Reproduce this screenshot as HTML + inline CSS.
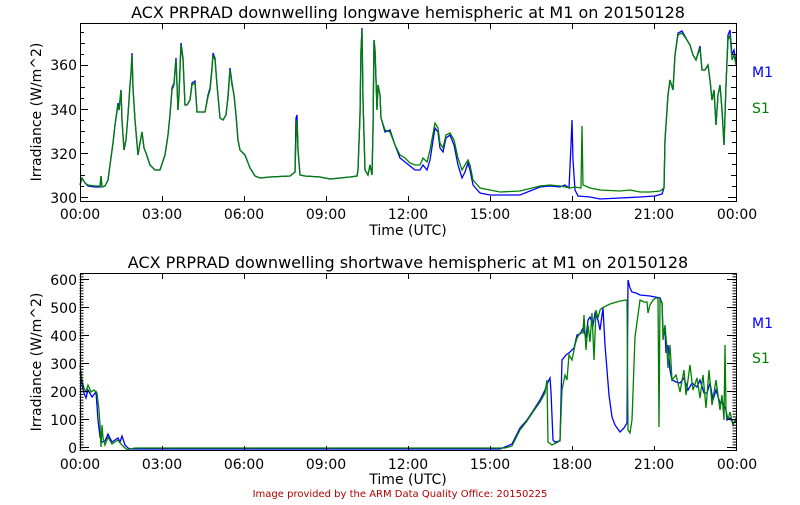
<!DOCTYPE html>
<html><head><style>
body{margin:0;background:#fff;}
svg text{font-family:"DejaVu Sans","Liberation Sans",sans-serif;}
</style></head><body>
<svg width="800" height="500" viewBox="0 0 800 500" xmlns="http://www.w3.org/2000/svg">
<g font-size="16" fill="#000" text-anchor="middle">
<text x="408" y="18">ACX PRPRAD downwelling longwave hemispheric at M1 on 20150128</text>
<text x="408" y="268">ACX PRPRAD downwelling shortwave hemispheric at M1 on 20150128</text>
</g>
<!-- plot 1 -->
<g fill="none" stroke-width="1.3">
<polyline stroke="#0000ff" points="80,185 82,178 85,183 88,186 95,187 100,187 101,176 102,187 105,186 108,180 110,165 113,143 115,125 118,103 119,110 121,90 122,120 124,150 126,140 128,115 130,85 131,73 132,53 133,88 135,120 138,155 140,143 142,132 144,148 146,153 150,165 155,170 160,170 165,155 168,135 170,115 172,88 174,83 175,70 176,58 178,110 179,93 181,43 183,58 185,105 187,105 190,100 192,83 195,81 197,112 200,112 205,112 208,95 210,88 212,68 213,53 215,58 217,85 220,118 223,120 226,115 228,96 230,68 232,83 234,95 236,115 238,140 240,150 245,155 250,168 255,176 260,178 270,177 290,176 295,172 296,118 297,115 298,150 300,175 305,176 320,177 330,179 340,178 350,177 357,176 358,170 360,115 361,50 362,28 363,100 365,170 368,175 370,165 372,175 373,130 374,40 375,50 377,110 378,85 380,95 381,118 385,132 390,130 395,145 400,158 405,162 410,166 415,170 420,170 423,165 427,170 430,160 435,128 438,132 440,148 443,152 446,138 450,135 454,145 458,165 462,178 465,172 468,163 470,170 473,185 480,193 490,195 500,195 520,195 540,187 550,186 560,187 565,185 569,188 571,145 572,120 573,160 575,190 578,196 590,197 600,199 620,198 640,197 655,196 662,194 664,188 665,140 668,95 670,80 673,90 675,55 678,33 682,31 687,40 690,45 693,55 696,60 700,46 702,70 705,70 708,65 710,80 712,100 714,90 716,125 718,95 720,85 722,110 724,145 726,85 728,35 730,30 732,55 734,50 736,62"/>
<polyline stroke="#008000" points="80,185 82,178 85,183 88,185 95,186 100,186 101,176 102,187 105,186 108,180 110,165 113,143 115,125 118,105 119,110 121,90 122,120 124,150 126,140 128,115 130,85 131,75 132,55 133,88 135,120 138,155 140,143 142,132 144,148 146,153 150,165 155,170 160,170 165,155 168,135 170,115 172,90 174,85 175,72 176,60 178,110 179,95 181,45 183,60 185,105 187,105 190,100 192,85 195,83 197,112 200,112 205,112 208,97 210,90 212,70 213,55 215,60 217,85 220,118 223,120 226,115 228,98 230,70 232,85 234,95 236,115 238,140 240,150 245,155 250,168 255,176 260,178 270,177 290,176 295,172 296,140 297,120 298,150 300,175 305,176 320,177 330,179 340,178 350,177 357,176 358,170 360,115 361,50 362,30 363,100 365,170 368,175 370,165 372,175 373,130 374,40 375,50 377,110 378,85 380,95 381,118 385,130 390,132 395,145 400,155 405,158 410,163 415,165 420,165 423,158 427,162 430,150 435,123 438,128 440,143 443,148 446,135 450,133 454,140 458,158 462,170 465,165 468,160 470,165 473,180 480,188 490,190 500,192 520,191 540,186 550,185 560,186 565,187 570,188 575,187 581,188 582,126 583,185 590,188 600,190 620,191 630,190 640,192 650,192 660,191 664,188 665,140 668,95 670,80 673,90 675,55 678,35 682,33 687,40 690,45 693,55 696,60 700,48 702,70 705,70 708,65 710,80 712,100 714,90 716,125 718,95 720,85 722,110 724,145 726,85 728,40 730,35 732,60 734,55 736,65"/>
</g>
<g stroke="#000" fill="none" stroke-width="1">
<rect x="80.5" y="23.5" width="656" height="178"/>
<path d="M162.5,201 v-5 M244.5,201 v-5 M326.5,201 v-5 M408.5,201 v-5 M490.5,201 v-5 M572.5,201 v-5 M654.5,201 v-5 M162.5,24 v5 M244.5,24 v5 M326.5,24 v5 M408.5,24 v5 M490.5,24 v5 M572.5,24 v5 M654.5,24 v5"/>
<path d="M80,197.5h8 M80,175.5h5 M80,153.5h8 M80,131.5h5 M80,109.5h8 M80,87.5h5 M80,65.5h8 M80,43.5h5 M736,197.5h-8 M736,175.5h-5 M736,153.5h-8 M736,131.5h-5 M736,109.5h-8 M736,87.5h-5 M736,65.5h-8 M736,43.5h-5"/>
<path d="M80,186.5h4 M80,164.5h4 M80,142.5h4 M80,120.5h4 M80,98.5h4 M80,76.5h4 M80,54.5h4 M80,32.5h4 M736,186.5h-4 M736,164.5h-4 M736,142.5h-4 M736,120.5h-4 M736,98.5h-4 M736,76.5h-4 M736,54.5h-4 M736,32.5h-4"/>
</g>
<g font-size="14" fill="#000">
<g text-anchor="end"><text x="77" y="203">300</text><text x="77" y="159">320</text><text x="77" y="115">340</text><text x="77" y="70">360</text></g>
<g text-anchor="middle"><text x="80" y="219">00:00</text><text x="162" y="219">03:00</text><text x="244" y="219">06:00</text><text x="326" y="219">09:00</text><text x="408" y="219">12:00</text><text x="490" y="219">15:00</text><text x="572" y="219">18:00</text><text x="654" y="219">21:00</text><text x="737" y="219">00:00</text>
<text x="408" y="235">Time (UTC)</text></g>
<text transform="translate(41,112) rotate(-90)" text-anchor="middle">Irradiance (W/m^2)</text>
<text x="752" y="77" fill="#0000ff">M1</text><text x="752" y="113" fill="#008000">S1</text>
</g>
<!-- plot 2 -->
<g fill="none" stroke-width="1.3">
<polyline stroke="#0000ff" points="80,372 82,385 84,393 86,398 88,390 92,397 96,392 98,420 100,437 102,442 105,441 108,434 112,442 115,440 118,438 120,442 122,436 125,445 128,448 130,449 200,449 300,449 400,449 460,449 500,449 505,447 512,444 520,428 527,420 533,411 540,400 545,390 548,382 550,378 551,392 553,440 555,442 560,441 561,400 562,360 566,355 570,352 574,348 577,335 580,334 583,328 586,338 588,320 590,317 593,325 595,313 598,320 600,330 603,308 605,345 607,370 609,395 612,417 615,425 620,432 624,428 627,423 628,280 630,288 632,292 636,293 640,295 650,296 660,298 662,303 663,330 665,330 666,353 668,345 670,370 672,380 676,382 680,383 684,378 688,390 692,383 697,387 700,380 704,393 707,393 710,383 713,400 716,390 720,403 723,403 726,410 727,420 730,418 733,423 736,421"/>
<polyline stroke="#008000" points="80,365 82,380 84,388 86,392 88,385 91,392 94,390 97,393 99,410 100,425 101,447 102,425 103,438 105,445 108,437 112,444 115,442 118,440 120,443 125,448 128,450 130,449 135,448 400,448 505,448 512,446 520,430 527,421 533,412 540,402 545,393 547,380 548,442 552,445 558,442 560,440 562,390 565,375 567,380 569,355 572,360 575,345 577,338 580,333 583,333 584,315 586,350 588,325 590,342 592,313 594,360 596,310 598,318 600,310 602,308 610,304 620,301 627,300 628,430 630,433 632,420 635,337 638,315 640,300 644,302 647,302 648,313 650,305 653,300 656,298 658,298 659,427 660,300 662,303 663,340 665,325 667,350 668,368 670,345 672,380 676,375 680,392 684,370 686,395 690,365 693,390 697,378 700,398 703,375 706,408 709,370 712,405 716,380 720,410 722,395 724,420 725,345 726,410 728,420 730,412 733,425 736,418"/>
</g>
<g stroke="#000" fill="none" stroke-width="1">
<rect x="80.5" y="273.5" width="656" height="177"/>
<path d="M162.5,451 v-5 M244.5,451 v-5 M326.5,451 v-5 M408.5,451 v-5 M490.5,451 v-5 M572.5,451 v-5 M654.5,451 v-5 M162.5,274 v5 M244.5,274 v5 M326.5,274 v5 M408.5,274 v5 M490.5,274 v5 M572.5,274 v5 M654.5,274 v5"/>
<path d="M80,447.5h9 M80,419.5h9 M80,391.5h9 M80,363.5h9 M80,335.5h9 M80,307.5h9 M80,279.5h9 M736,447.5h-9 M736,419.5h-9 M736,391.5h-9 M736,363.5h-9 M736,335.5h-9 M736,307.5h-9 M736,279.5h-9"/>
<path stroke-dasharray="1 1.8" d="M80,451 V274 M81,451 V274 M82,451 V274 M83,451 V274 M736,451 V274 M735,451 V274 M734,451 V274 M733,451 V274"/>
</g>
<g font-size="14" fill="#000">
<g text-anchor="end"><text x="77" y="453">0</text><text x="77" y="425">100</text><text x="77" y="397">200</text><text x="77" y="369">300</text><text x="77" y="341">400</text><text x="77" y="313">500</text><text x="77" y="285">600</text></g>
<g text-anchor="middle"><text x="80" y="469">00:00</text><text x="162" y="469">03:00</text><text x="244" y="469">06:00</text><text x="326" y="469">09:00</text><text x="408" y="469">12:00</text><text x="490" y="469">15:00</text><text x="572" y="469">18:00</text><text x="654" y="469">21:00</text><text x="737" y="469">00:00</text>
<text x="408" y="484">Time (UTC)</text></g>
<text transform="translate(41,362) rotate(-90)" text-anchor="middle">Irradiance (W/m^2)</text>
<text x="752" y="328" fill="#0000ff">M1</text><text x="752" y="363" fill="#008000">S1</text>
</g>
<text x="400" y="497" font-size="10" fill="#b00000" text-anchor="middle">Image provided by the ARM Data Quality Office: 20150225</text>
</svg>
</body></html>
